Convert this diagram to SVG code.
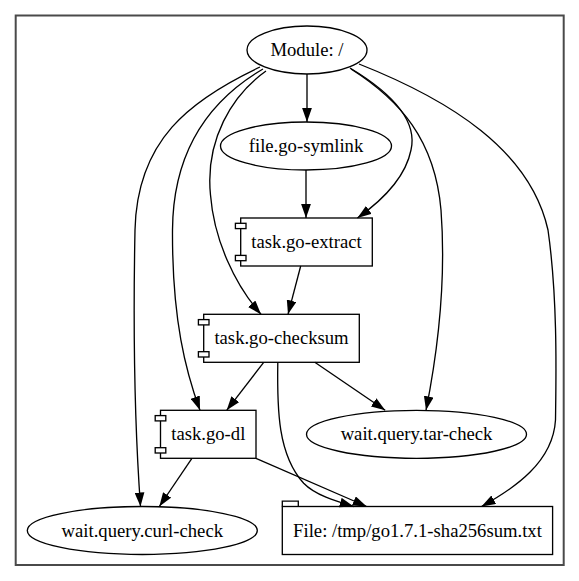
<svg xmlns="http://www.w3.org/2000/svg" width="579" height="581" viewBox="0 0 579 581">
<defs>
<marker id="ah" markerUnits="userSpaceOnUse" markerWidth="14" markerHeight="10" viewBox="0 0 13.33 9.33" refX="13.33" refY="4.67" orient="auto">
<path d="M0,0 L13.33,4.67 L0,9.33 z" fill="#000"/>
</marker>
</defs>
<style>
.n { fill: none; stroke: #000; stroke-width: 1.33; }
.tab { fill: #fff; stroke: #000; stroke-width: 1.33; }
.t { font-family: "Liberation Serif", "Times New Roman", serif; font-size: 18.67px; text-anchor: middle; fill: #000; }
.e { fill: none; stroke: #000; stroke-width: 1.33; marker-end: url(#ah); }
</style>
<rect x="0" y="0" width="579" height="581" fill="#fff"/>
<rect x="15.7" y="15.5" width="548" height="549.5" fill="none" stroke="#4a4a4a" stroke-width="2"/>
<g id="edges">
<path class="e" d="M307,74 L307,122"/>
<path class="e" d="M306,170 L306,218"/>
<path class="e" d="M350,68 C390,92 418,120 411,150 C405,180 380,202 357.4,218"/>
<path class="e" d="M266,71 C232,95 205,140 210.5,195 C214,240 235,285 261,314.3"/>
<path class="e" d="M263,69 C210,100 173,150 172.5,230 C172,320 186,372 200,410.3"/>
<path class="e" d="M260,67 C190,100 137,140 135,230 C133,330 135,430 140.5,506.5"/>
<path class="e" d="M351,69 C400,100 435,140 441,210 C447,290 436,360 426,410.3"/>
<path class="e" d="M359,64 C450,100 530,150 548,230 C558,300 556,380 555.5,420 C553,462 515,488 481.5,506.5"/>
<path class="e" d="M300.7,266 L288,314.3"/>
<path class="e" d="M263.7,362.3 L226.7,410.3"/>
<path class="e" d="M314.8,362.3 L385.2,410.3"/>
<path class="e" d="M277.8,362.3 C277,410 278,455 303.7,483.3 C315,495 335,501 353.7,506.5"/>
<path class="e" d="M256,458.3 L366.7,506.5"/>
<path class="e" d="M191.9,458.3 L159.3,506.5"/>
</g>
<g id="module">
<ellipse class="n" cx="307" cy="50" rx="60" ry="24"/>
<text class="t" x="307" y="56">Module: /</text>
</g>
<g id="file-go-symlink">
<ellipse class="n" cx="306" cy="146" rx="85.5" ry="24"/>
<text class="t" x="306" y="152">file.go-symlink</text>
</g>
<g id="task-go-extract">
<rect class="n" x="240.7" y="218" width="131.6" height="48"/>
<rect class="tab" x="235.4" y="223.3" width="10.6" height="5.3"/>
<rect class="tab" x="235.4" y="255.4" width="10.6" height="5.3"/>
<text class="t" x="306.5" y="248">task.go-extract</text>
</g>
<g id="task-go-checksum">
<rect class="n" x="203.7" y="314.3" width="155.6" height="48"/>
<rect class="tab" x="198.4" y="319.6" width="10.6" height="5.3"/>
<rect class="tab" x="198.4" y="351.7" width="10.6" height="5.3"/>
<text class="t" x="281.5" y="344.3">task.go-checksum</text>
</g>
<g id="task-go-dl">
<rect class="n" x="160.5" y="410.3" width="95.5" height="48"/>
<rect class="tab" x="155.2" y="415.6" width="10.6" height="5.3"/>
<rect class="tab" x="155.2" y="447.7" width="10.6" height="5.3"/>
<text class="t" x="208.3" y="440.3">task.go-dl</text>
</g>
<g id="wait-query-tar-check">
<ellipse class="n" cx="416.5" cy="434.3" rx="110" ry="24"/>
<text class="t" x="416.5" y="440.3">wait.query.tar-check</text>
</g>
<g id="wait-query-curl-check">
<ellipse class="n" cx="142.3" cy="530.5" rx="115" ry="24"/>
<text class="t" x="142.3" y="536.5">wait.query.curl-check</text>
</g>
<g id="file-sha256sum">
<rect class="n" x="282.3" y="506.5" width="270.3" height="48"/>
<polyline class="n" points="282.3,506.5 282.3,501.2 298.3,501.2 298.3,506.5"/>
<text class="t" x="417.5" y="536.5">File: /tmp/go1.7.1-sha256sum.txt</text>
</g>
</svg>
